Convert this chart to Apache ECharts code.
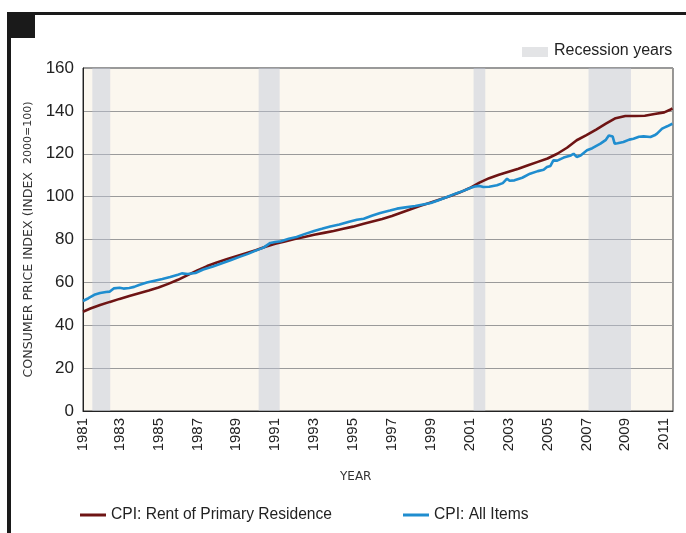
<!DOCTYPE html>
<html>
<head>
<meta charset="utf-8">
<script src="https://cdn.jsdelivr.net/npm/echarts@6/dist/echarts.min.js"></script>
<style>
html,body{margin:0;padding:0;background:#fff;}
#chart{width:686px;height:533px;}
</style>
</head>
<body>
<div id="chart"></div>
<script>
// ---- Data ----
const rentYears = [1981.12,1981.5,1982.0,1982.5,1983.0,1983.5,1984.0,1984.5,1985.0,1985.5,1986.0,1986.5,1987.0,1987.5,1988.0,1988.5,1989.0,1989.5,1990.0,1990.5,1991.0,1991.5,1992.0,1992.5,1993.0,1993.5,1994.0,1994.5,1995.0,1995.5,1996.0,1996.5,1997.0,1997.5,1998.0,1998.5,1999.0,1999.5,2000.0,2000.5,2001.0,2001.5,2002.0,2002.5,2003.0,2003.5,2004.0,2004.5,2005.0,2005.5,2006.0,2006.5,2007.0,2007.5,2008.0,2008.5,2009.0,2009.5,2010.0,2010.5,2011.0,2011.3,2011.42];
const rentValues = [46.3,47.8,49.4,50.9,52.3,53.6,54.9,56.2,57.6,59.3,61.2,63.4,65.6,67.6,69.3,70.8,72.2,73.6,75.0,76.6,78.0,79.1,80.2,81.2,82.2,83.1,84.0,85.0,86.0,87.2,88.4,89.6,91.0,92.6,94.2,95.8,97.3,98.8,100.3,102.0,104.0,106.5,108.6,110.2,111.6,113.0,114.6,116.2,117.8,120.0,122.8,126.3,128.7,131.3,134.0,136.6,137.6,137.6,137.7,138.5,139.3,140.5,141.2];

const cpiYears = [1981.12,1981.4,1981.7,1982.0,1982.3,1982.5,1982.7,1983.0,1983.2,1983.5,1983.75,1984.0,1984.4,1984.8,1985.2,1985.6,1986.0,1986.2,1986.5,1986.9,1987.3,1987.8,1988.3,1988.7,1989.2,1989.6,1990.0,1990.4,1990.75,1991.0,1991.3,1991.7,1992.1,1992.5,1993.0,1993.4,1993.83,1994.3,1994.8,1995.2,1995.55,1996.0,1996.4,1996.9,1997.26,1997.7,1998.2,1998.6,1999.0,1999.4,1999.83,2000.3,2000.7,2001.03,2001.3,2001.5,2001.7,2002.0,2002.4,2002.7,2002.92,2003.05,2003.3,2003.7,2004.1,2004.5,2004.8,2004.97,2005.15,2005.3,2005.5,2005.83,2006.2,2006.34,2006.5,2006.7,2007.03,2007.3,2007.72,2008.0,2008.15,2008.23,2008.35,2008.45,2008.6,2008.9,2009.2,2009.42,2009.7,2009.94,2010.29,2010.5,2010.63,2010.89,2011.0,2011.15,2011.25,2011.42];
const cpiValues = [51.3,52.6,54.2,55.0,55.5,55.7,57.2,57.5,57.1,57.4,57.9,58.8,59.9,60.8,61.6,62.5,63.6,64.2,63.9,64.4,66.0,67.4,69.0,70.3,72.0,73.3,74.8,76.2,78.4,78.8,79.2,80.3,81.2,82.5,84.0,85.0,86.1,87.0,88.3,89.2,89.7,91.2,92.4,93.5,94.4,95.0,95.6,96.3,97.0,98.3,99.8,101.5,102.8,104.0,104.8,105.0,104.5,104.6,105.3,106.3,108.4,107.4,107.6,108.8,110.7,111.9,112.5,113.8,114.3,116.9,116.8,118.2,119.2,120.0,118.5,119.2,121.6,122.6,124.7,126.5,128.5,129.4,128.0,124.7,124.9,125.5,126.6,127.0,127.9,128.1,127.8,128.6,129.4,131.7,132.2,132.8,132.6,134.0];

const recessionStarts = [1981.6, 1990.15, 2001.2, 2007.11];
const recessionEnds   = [1982.52, 1991.23, 2001.8, 2009.29];

const xTickYears = [1981.12,1983,1985,1987,1989,1991,1993,1995,1997,1999,2001,2003,2005,2007,2009,2011];
const yTicks = [0,20,40,60,80,100,120,140,160];

const seriesNames = ['CPI: Rent of Primary Residence', 'CPI: All Items'];
const colors = ['#6e1414', '#1f8dcf'];

// ---- Build ----
const pair = (xs, ys) => xs.map((x, i) => [x, ys[i]]);
const bands = recessionStarts.map((s, i) => [{xAxis: s}, {xAxis: recessionEnds[i]}]);

const chart = echarts.init(document.getElementById('chart'), null, {renderer: 'canvas'});
chart.setOption({
  backgroundColor: '#ffffff',
  animation: false,
  grid: {
    left: 83, right: 13, top: 68, bottom: 122,
    show: true, backgroundColor: '#fbf7ef', borderColor: '#333', borderWidth: 1
  },
  xAxis: {
    type: 'value', min: 1981.12, max: 2011.45,
    axisLine: {show: true, lineStyle: {color: '#222', width: 1}},
    axisTick: {show: false},
    splitLine: {show: false},
    axisLabel: {
      customValues: xTickYears, rotate: 90, margin: 7,
      fontFamily: 'Liberation Sans', fontSize: 15, color: '#222',
      formatter: v => String(Math.round(v))
    }
  },
  yAxis: {
    type: 'value', min: yTicks[0], max: yTicks[yTicks.length - 1], interval: 20,
    name: '{a|CONSUMER PRICE INDEX (INDEX  }{b|2000=100)}',
    nameLocation: 'middle', nameGap: 45, nameRotate: 90,
    nameTextStyle: {
      rich: {
        a: {fontFamily: 'DejaVu Sans', fontSize: 12.6, color: '#333'},
        b: {fontFamily: 'DejaVu Sans', fontSize: 11, color: '#333'}
      }
    },
    axisLine: {show: true, lineStyle: {color: '#222', width: 1}},
    axisTick: {show: false},
    splitLine: {show: true, lineStyle: {color: '#9a9a9a', width: 1}},
    axisLabel: {margin: 9, fontFamily: 'Liberation Sans', fontSize: 17, color: '#222'}
  },
  legend: {
    left: 75, top: 502, icon: 'rect', itemWidth: 26, itemHeight: 3, itemGap: 71,
    textStyle: {fontFamily: 'Liberation Sans', fontSize: 15.6, color: '#222'},
    data: seriesNames
  },
  graphic: [
    {type: 'rect', shape: {x: 7, y: 12, width: 679, height: 3}, style: {fill: '#1a1a1a'}},
    {type: 'rect', shape: {x: 7, y: 12, width: 4, height: 521}, style: {fill: '#1a1a1a'}},
    {type: 'rect', shape: {x: 7, y: 12, width: 28, height: 26}, style: {fill: '#1a1a1a'}},
    {type: 'rect', shape: {x: 522, y: 47, width: 26, height: 10}, style: {fill: '#e3e4e6'}},
    {type: 'text', left: 554, top: 43, style: {text: 'Recession years', fontFamily: 'Liberation Sans', fontSize: 16, fill: '#222'}},
    {type: 'text', left: 340, top: 471, style: {text: 'YEAR', fontFamily: 'DejaVu Sans', fontSize: 12, fill: '#333'}}
  ],
  series: [
    {
      name: 'recessions', type: 'line', data: [], silent: true,
      markArea: {silent: true, itemStyle: {color: 'rgba(190,198,214,0.45)'}, data: bands}
    },
    {
      name: seriesNames[0], type: 'line', data: pair(rentYears, rentValues),
      showSymbol: false, symbol: 'none', color: colors[0],
      lineStyle: {color: colors[0], width: 2.6}, z: 3
    },
    {
      name: seriesNames[1], type: 'line', data: pair(cpiYears, cpiValues),
      showSymbol: false, symbol: 'none', color: colors[1],
      lineStyle: {color: colors[1], width: 2.6}, z: 4
    }
  ]
});
</script>
</body>
</html>
